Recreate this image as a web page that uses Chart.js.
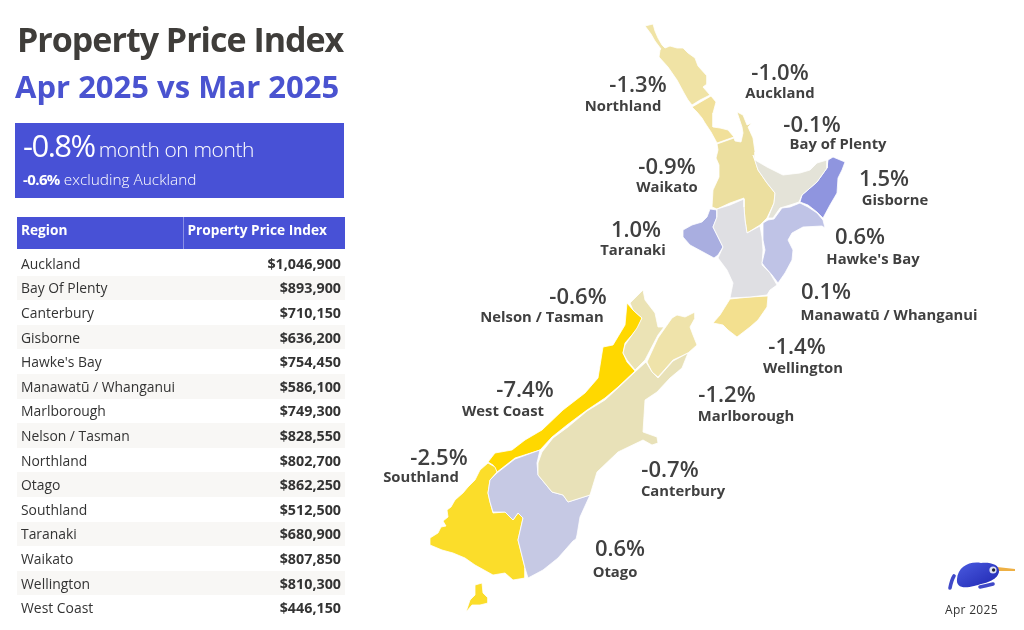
<!DOCTYPE html>
<html>
<head>
<meta charset="utf-8">
<title>Property Price Index</title>
<script src="https://cdn.jsdelivr.net/npm/chart.js@4"></script>
<style>
    html, body { margin: 0; padding: 0; background: #fff; width: 1024px; height: 630px; overflow: hidden; font-family: "Open Sans", sans-serif; }
    #myChart { position: absolute; left: 0; top: 0; }
    .abs { position: absolute; white-space: nowrap; }
    #title { left: 17px; top: 15px; font-size: 34px; font-weight: 700; letter-spacing: -1px; color: #3f3d3a; line-height: 48px; }
    #subtitle { left: 15px; top: 63px; font-size: 31px; font-weight: 700; color: #4a53d0; line-height: 46px; }
    #kpi { left: 15px; top: 123px; width: 329px; height: 75px; background: #4851d6; color: #fff; }
    #kpi1 { left: 8px; top: -1px; font-size: 21px; font-weight: 300; letter-spacing: -.4px; line-height: 46px; }
    #kpi1 b { font-size: 31px; font-weight: 400; letter-spacing: -1.5px; margin-right: 4px; }
    #kpi2 { left: 8px; top: 44px; font-size: 15.4px; font-weight: 300; line-height: 24px; }
    #kpi2 b { font-size: 15px; font-weight: 700; letter-spacing: -.6px; }
    #tbl { position: absolute; left: 17px; top: 217px; width: 328px; border-collapse: collapse; table-layout: fixed; font-size: 13.9px; color: #333; }
    #tbl th { background: #4851d6; color: #fff; font-weight: 700; text-align: left; height: 32px; padding: 0 0 8px 4px; box-sizing: border-box; font-size: 13.7px; }
    #tbl th + th { border-left: 1px solid #8a90e6; }
    #tbl tr.gap th { height: 2px; padding: 0; background: #fff; border: 0; }
    #tbl td { height: 24.6px; padding: 0 4px; box-sizing: border-box; }
    #tbl td + td { text-align: right; font-weight: 700; font-size: 14.3px; }
    #tbl tbody tr:nth-child(even) td { background: #f8f7f5; }
    #logo { left: 945px; top: 558px; }
    #stamp { left: 945px; top: 601px; font-size: 12px; color: #333; letter-spacing: .3px; }
</style>
</head>
<body>
<canvas id="myChart" width="1024" height="630"></canvas>
<div class="abs" id="title">Property Price Index</div>
<div class="abs" id="subtitle">Apr 2025 vs Mar 2025</div>
<div class="abs" id="kpi">
    <div class="abs" id="kpi1"></div>
    <div class="abs" id="kpi2"></div>
</div>
<table id="tbl"><thead><tr><th style="width:166px">Region</th><th>Property Price Index</th></tr><tr class="gap"><th></th><th></th></tr></thead><tbody></tbody></table>
<svg class="abs" id="logo" width="72" height="40" viewBox="0 0 72 40">
    <defs><linearGradient id="kiwi" x1="0" y1="0" x2="1" y2="1"><stop offset="0" stop-color="#4a5be0"/><stop offset="1" stop-color="#1f26b0"/></linearGradient></defs>
    <path d="M52 9 L70 11 L70 13 L52 13 Z" fill="#eeb044"/>
    <path d="M12 21 C13 9 24 3 36 5 C44 4 55 6 54 14 C52 23 40 25 29 28 C18 31 11 29 12 21 Z" fill="url(#kiwi)"/>
    <circle cx="48" cy="12" r="3.6" fill="#dfe3f5"/><circle cx="48.6" cy="12" r="1.7" fill="#223"/>
    <path d="M5 30 C6 25 7 21 9 18 M35 29 C40 28 44 27 48 26" stroke="#4049c8" stroke-width="3.6" stroke-linecap="round" fill="none"/>
</svg>
<div class="abs" id="stamp">Apr 2025</div>

<script>
const regions = ['Auckland', 'Bay Of Plenty', 'Canterbury', 'Gisborne', "Hawke's Bay", 'Manawatū / Whanganui', 'Marlborough', 'Nelson / Tasman', 'Northland', 'Otago', 'Southland', 'Taranaki', 'Waikato', 'Wellington', 'West Coast'];
const prices = ['$1,046,900', '$893,900', '$710,150', '$636,200', '$754,450', '$586,100', '$749,300', '$828,550', '$802,700', '$862,250', '$512,500', '$680,900', '$807,850', '$810,300', '$446,150'];
const changes = ['-1.0%', '-0.1%', '-0.7%', '1.5%', '0.6%', '0.1%', '-1.2%', '-0.6%', '-1.3%', '0.6%', '-2.5%', '1.0%', '-0.9%', '-1.4%', '-7.4%'];
const mapLabels = ['Auckland', 'Bay of Plenty', 'Canterbury', 'Gisborne', "Hawke's Bay", 'Manawatū / Whanganui', 'Marlborough', 'Nelson / Tasman', 'Northland', 'Otago', 'Southland', 'Taranaki', 'Waikato', 'Wellington', 'West Coast'];
const regionColors = ['#f1e09a', '#e4e3d8', '#e8e1b8', '#8f95df', '#bfc3e6', '#dfdfe3', '#efe3aa', '#ebe3b5', '#f0e3a5', '#c6c9e4', '#fbdd2a', '#a9aee0', '#ecdf9f', '#f3e08f', '#ffd800'];

// region outlines, in map units
const aucklandShape = [[692,107],[711,96],[716,102],[713,113],[713,127],[720,128],[728,130],[734,137],[717,143],[711,132],[705,123],[702,118],[697,112]];
const bayOfPlentyShape = [[753,155],[755,160],[767,167],[783,175],[800,173],[810,170],[817,163],[827,160],[827,168],[817,182],[802,195],[799,202],[790,205],[780,208],[773,218],[768,218],[774,203],[775,193],[767,183],[758,170]];
const canterburyShape = [[635,372],[646,362],[652,372],[658,378],[673,361],[688,353],[682,368],[670,378],[657,392],[645,400],[643,432],[657,437],[658,443],[652,445],[643,440],[618,452],[597,472],[590,495],[568,502],[563,495],[552,492],[538,475],[538,463],[542,452],[553,438],[568,427],[587,411],[605,400],[618,388]];
const gisborneShape = [[828,160],[833,157],[845,162],[842,170],[838,178],[837,193],[830,205],[823,218],[817,212],[808,205],[800,202],[802,195],[817,182],[827,168]];
const hawkesBayShape = [[800,203],[808,207],[817,213],[823,220],[825,228],[822,226],[803,227],[792,233],[788,240],[793,250],[792,260],[785,273],[778,283],[772,275],[765,267],[762,263],[765,250],[763,240],[763,223],[768,220],[774,219],[782,208],[790,207]];
const manawatuShape = [[717,209],[730,205],[744,199],[744,207],[745,220],[747,233],[760,226],[762,237],[763,250],[762,265],[770,273],[777,285],[770,290],[767,295],[750,297],[730,298],[733,283],[727,270],[718,258],[723,247],[718,237],[713,227],[717,217]];
const marlboroughShape = [[665,328],[672,318],[677,315],[685,317],[695,312],[695,318],[690,327],[693,335],[697,345],[688,353],[673,360],[658,377],[652,372],[647,362],[658,338]];
const nelsonShape = [[630,303],[643,290],[645,300],[655,313],[658,327],[664,327],[658,335],[645,360],[635,370],[627,360],[623,353],[625,345],[637,328],[642,318],[633,310]];
const northlandShape = [[645,26],[653,24],[655,31],[658,38],[662,45],[665,48],[670,46],[677,48],[683,48],[688,53],[695,58],[698,66],[707,76],[707,84],[703,87],[710,95],[700,100],[692,105],[688,100],[684,93],[677,80],[668,67],[659,57],[660,50],[661,49],[655,41],[651,34],[648,30]];
const otagoShape = [[540,450],[537,463],[538,475],[552,492],[563,495],[568,502],[590,495],[580,517],[577,535],[576,539],[573,541],[558,558],[543,570],[528,578],[525,568],[518,540],[523,518],[518,513],[513,520],[505,512],[493,512],[490,502],[488,493],[490,480],[497,473],[515,459]];
const southlandShape = [[488,463],[495,467],[497,472],[490,480],[488,493],[490,502],[493,513],[505,512],[513,520],[518,513],[523,518],[518,540],[525,568],[525,578],[513,580],[505,573],[493,575],[475,565],[465,558],[453,553],[442,550],[430,545],[430,538],[438,533],[441,527],[446,526],[443,521],[448,517],[447,510],[451,507],[455,500],[463,493],[468,487],[475,480],[480,470]];
const stewartShape = [[475,585],[482,583],[483,593],[488,598],[488,603],[480,605],[472,605],[466,612],[470,600],[475,595]];
const taranakiShape = [[710,209],[717,210],[717,217],[713,227],[718,237],[723,247],[718,255],[714,258],[703,252],[690,245],[683,237],[683,230],[692,225],[702,222],[707,217]];
const waikatoShape = [[717,144],[734,138],[735,141],[741,142],[743,133],[742,127],[737,112],[743,115],[747,125],[752,123],[748,127],[753,138],[755,152],[755,160],[758,170],[767,183],[775,193],[774,203],[767,218],[760,225],[747,233],[745,220],[744,207],[744,198],[730,203],[717,209],[712,207],[713,190],[719,177],[719,165],[716,158],[718,150]];
const wellingtonShape = [[730,299],[750,297],[768,296],[767,307],[758,320],[750,327],[737,337],[728,330],[723,325],[713,323],[720,315],[725,307]];
const westCoastShape = [[627,303],[633,310],[642,318],[638,328],[625,343],[623,353],[627,362],[635,371],[618,387],[605,398],[587,410],[567,425],[552,437],[540,450],[515,458],[497,472],[493,465],[488,462],[495,453],[512,450],[525,440],[542,430],[563,410],[585,393],[598,378],[603,347],[613,345],[625,325]];

const regionShapes = [aucklandShape, bayOfPlentyShape, canterburyShape, gisborneShape, hawkesBayShape, manawatuShape, marlboroughShape, nelsonShape, northlandShape, otagoShape, southlandShape, taranakiShape, waikatoShape, wellingtonShape, westCoastShape];

// where the value and the name of each region sit: value x, value y, name x, name y
const labelSpots = [[780,74,780,94],[812,126,838,145],[670,471,683,492],[884,180,895,201],[860,238,873,260],[826,293,889,316],[727,396,746,417],[578,298,542,318],[638,86,623,107],[620,550,615,573],[439,459,421,478],[636,231,633,251],[667,168,667,188],[797,348,803,369],[525,391,503,412]];

document.getElementById('kpi1').innerHTML = '<b>-0.8%</b>month on month';
document.getElementById('kpi2').innerHTML = '<b>-0.6%</b> excluding Auckland';

let tbody = document.querySelector('#tbl tbody');
regions.forEach((name, i) => {
    let row = document.createElement('tr');
    let nameCell = document.createElement('td');
    let priceCell = document.createElement('td');
    nameCell.textContent = name;
    priceCell.textContent = prices[i];
    row.append(nameCell, priceCell);
    tbody.append(row);
});

function shapeDataset(shape, color) {
    const points = shape.concat([shape[0]]).map(p => ({ x: p[0], y: p[1] }));
    return {
        data: points,
        showLine: true,
        fill: 'shape',
        tension: 0,
        pointRadius: 0,
        borderWidth: 0.8,
        borderColor: '#ffffff',
        backgroundColor: color
    };
}

const datasets = regionShapes.map((shape, i) => shapeDataset(shape, regionColors[i]));
datasets.push(shapeDataset(stewartShape, regionColors[10]));

const regionLabels = {
    id: 'regionLabels',
    afterDraw(chart) {
        const { ctx, scales } = chart;
        ctx.save();
        ctx.textAlign = 'center';
        ctx.textBaseline = 'middle';
        ctx.fillStyle = '#404040';
        labelSpots.forEach((spot, i) => {
            ctx.font = '600 22px "Open Sans"';
            ctx.fillText(changes[i], scales.x.getPixelForValue(spot[0]), scales.y.getPixelForValue(spot[1]));
            ctx.font = '700 14.8px "Open Sans"';
            ctx.fillText(mapLabels[i], scales.x.getPixelForValue(spot[2]), scales.y.getPixelForValue(spot[3]));
        });
        ctx.restore();
    }
};

const myChart = new Chart(document.getElementById('myChart'), {
    type: 'scatter',
    data: { datasets },
    options: {
        responsive: false,
        animation: false,
        layout: { padding: 0 },
        plugins: { legend: { display: false }, tooltip: { enabled: false } },
        scales: {
            x: { type: 'linear', min: 0, max: 1024, display: false },
            y: { type: 'linear', min: 0, max: 630, reverse: true, display: false }
        }
    },
    plugins: [regionLabels]
});
</script>
</body>
</html>
